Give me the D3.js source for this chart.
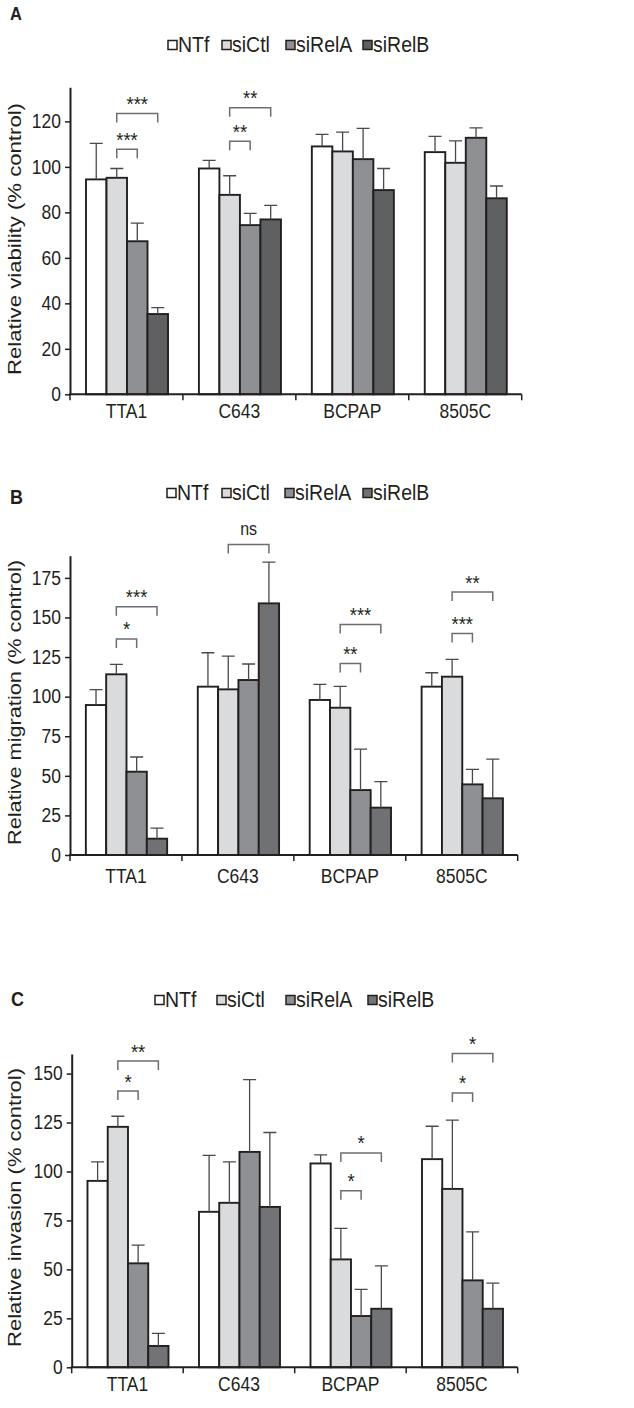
<!DOCTYPE html>
<html><head><meta charset="utf-8">
<script src="https://cdn.jsdelivr.net/npm/d3@7"></script>
<style>body{margin:0;background:#fff}svg{display:block}text{font-family:"Liberation Sans",Arial,sans-serif;fill:#231f20}</style>
</head><body><svg id="c" width="634" height="1408"></svg>
<script>
const categories = ["TTA1", "C643", "BCPAP", "8505C"];
const series = ["NTf", "siCtl", "siRelA", "siRelB"];

// Panel A: relative viability (mean per category, one array per series) and upper error
const viabilityNTf = [94.5, 99.3, 109.0, 106.5];
const viabilitySiCtl = [95.2, 87.7, 106.8, 101.8];
const viabilitySiRelA = [67.3, 74.4, 103.4, 112.8];
const viabilitySiRelB = [35.3, 76.9, 89.8, 86.2];
const viabilityErrNTf = [15.8, 3.6, 5.3, 6.9];
const viabilityErrSiCtl = [4.1, 8.4, 8.5, 9.6];
const viabilityErrSiRelA = [8.0, 5.2, 13.5, 4.4];
const viabilityErrSiRelB = [2.8, 6.2, 9.5, 5.4];
const viabilityTicks = [0, 20, 40, 60, 80, 100, 120];
const viabilitySig = [
  {cat: "TTA1", from: "siCtl", to: "siRelA", level: 107.8, label: "***"},
  {cat: "TTA1", from: "siCtl", to: "siRelB", level: 123.5, label: "***"},
  {cat: "C643", from: "siCtl", to: "siRelA", level: 111.3, label: "**"},
  {cat: "C643", from: "siCtl", to: "siRelB", level: 126.0, label: "**"}
];

// Panel B: relative migration
const migrationNTf = [94.7, 106.3, 97.9, 106.3];
const migrationSiCtl = [114.1, 104.6, 93.0, 112.6];
const migrationSiRelA = [52.6, 110.5, 41.0, 44.6];
const migrationSiRelB = [10.3, 158.9, 29.9, 35.8];
const migrationErrNTf = [9.7, 21.4, 9.9, 8.8];
const migrationErrSiCtl = [6.3, 21.0, 13.5, 10.9];
const migrationErrSiRelA = [9.3, 10.1, 25.9, 9.5];
const migrationErrSiRelB = [6.7, 26.1, 16.4, 24.8];
const migrationTicks = [0, 25, 50, 75, 100, 125, 150, 175];
const migrationSig = [
  {cat: "TTA1", from: "siCtl", to: "siRelA", level: 136.4, label: "*"},
  {cat: "TTA1", from: "siCtl", to: "siRelB", level: 156.8, label: "***"},
  {cat: "C643", from: "siCtl", to: "siRelB", level: 196.0, label: "ns"},
  {cat: "BCPAP", from: "siCtl", to: "siRelA", level: 121.0, label: "**"},
  {cat: "BCPAP", from: "siCtl", to: "siRelB", level: 145.5, label: "***"},
  {cat: "8505C", from: "siCtl", to: "siRelA", level: 139.9, label: "***"},
  {cat: "8505C", from: "siCtl", to: "siRelB", level: 166.0, label: "**"}
];

// Panel C: relative invasion
const invasionNTf = [95.2, 79.4, 104.1, 106.3];
const invasionSiCtl = [122.8, 84.0, 55.1, 91.1];
const invasionSiRelA = [53.1, 110.0, 26.2, 44.4];
const invasionSiRelB = [10.9, 81.9, 29.9, 29.9];
const invasionErrNTf = [9.7, 28.8, 4.4, 16.8];
const invasionErrSiCtl = [5.4, 20.9, 15.8, 35.1];
const invasionErrSiRelA = [9.3, 36.9, 13.6, 24.8];
const invasionErrSiRelB = [6.4, 38.0, 21.9, 13.1];
const invasionTicks = [0, 25, 50, 75, 100, 125, 150];
const invasionSig = [
  {cat: "TTA1", from: "siCtl", to: "siRelA", level: 141.1, label: "*"},
  {cat: "TTA1", from: "siCtl", to: "siRelB", level: 156.4, label: "**"},
  {cat: "BCPAP", from: "siCtl", to: "siRelA", level: 90.1, label: "*"},
  {cat: "BCPAP", from: "siCtl", to: "siRelB", level: 109.5, label: "*"},
  {cat: "8505C", from: "siCtl", to: "siRelA", level: 140.1, label: "*"},
  {cat: "8505C", from: "siCtl", to: "siRelB", level: 160.2, label: "*"}
];

const svg = d3.select("#c");
const SY = 1.12; // vertical stretch of the original figure's text

function drawPanel(p) {
  const g = svg.append("g");
  const colors = {NTf: "#ffffff", siCtl: "#dadbdd", siRelA: "#8f9093", siRelB: p.relBColor};
  const x = d3.scaleBand().domain(categories).range(p.xRange).padding(0);
  const bw = x.bandwidth();
  const x1 = d3.scaleBand().domain(series).range([bw * 0.1416, bw * 0.868]).padding(0);
  const y = d3.scaleLinear().domain([0, p.yMax]).range(p.yRange);

  const rows = [];
  series.forEach((s, si) => categories.forEach((c, ci) => {
    rows.push({s, c, v: p.means[si][ci], e: p.errs[si][ci]});
  }));

  // bars
  g.selectAll("rect.bar").data(rows).join("rect")
    .attr("class", "bar")
    .attr("x", d => x(d.c) + x1(d.s))
    .attr("y", d => y(d.v))
    .attr("width", x1.bandwidth())
    .attr("height", d => y(0) - y(d.v))
    .attr("fill", d => colors[d.s])
    .attr("stroke", "#231f20").attr("stroke-width", 1.9);

  // error bars (upper only)
  const cx = d => x(d.c) + x1(d.s) + x1.bandwidth() / 2;
  g.selectAll("path.err").data(rows).join("path")
    .attr("class", "err")
    .attr("d", d => `M${cx(d)},${y(d.v)}V${y(d.v + d.e)}M${cx(d) - 6.5},${y(d.v + d.e)}H${cx(d) + 6.5}`)
    .attr("fill", "none").attr("stroke", "#4a4a4c").attr("stroke-width", 1.3);

  // y axis
  const ya = g.append("g").attr("transform", `translate(${p.xRange[0]},0)`)
    .call(d3.axisLeft(y).tickValues(p.ticks).tickSize(5).tickSizeOuter(0).tickPadding(4));
  ya.select(".domain").attr("stroke", "#231f20").attr("stroke-width", 2);
  ya.selectAll(".tick line").attr("stroke", "#231f20").attr("stroke-width", 1.5);
  ya.selectAll(".tick text").attr("font-size", 17.5).attr("font-family", null)
    .attr("fill", "#231f20").attr("transform", `scale(1,${SY})`);

  // x axis
  g.append("line").attr("x1", p.xRange[0] - 1).attr("x2", p.xRange[1])
    .attr("y1", y(0)).attr("y2", y(0)).attr("stroke", "#231f20").attr("stroke-width", 2);
  const bounds = categories.map(c => x(c)).concat([p.xRange[1]]);
  g.selectAll("line.xt").data(bounds).join("line")
    .attr("x1", d => d).attr("x2", d => d).attr("y1", y(0)).attr("y2", y(0) + 6)
    .attr("stroke", "#231f20").attr("stroke-width", 1.5);
  g.selectAll("text.cat").data(categories).join("text")
    .attr("text-anchor", "middle").attr("font-size", 17.5)
    .attr("transform", d => `translate(${x(d) + bw / 2},${p.catY}) scale(1,${SY})`)
    .text(d => d);

  // significance brackets
  p.sig.forEach(b => {
    const xa = x(b.cat) + x1(b.from) + x1.bandwidth() / 2;
    const xb = x(b.cat) + x1(b.to) + x1.bandwidth() / 2;
    const yy = y(b.level);
    g.append("path").attr("d", `M${xa},${yy + 9}V${yy}H${xb}V${yy + 9}`)
      .attr("fill", "none").attr("stroke", "#6d6e70").attr("stroke-width", 1.5);
    const isNs = b.label === "ns";
    g.append("text").attr("text-anchor", "middle").attr("font-size", isNs ? 16 : 18.5)
      .attr("fill", "#333")
      .attr("transform", `translate(${(xa + xb) / 2},${yy - (isNs ? 9.5 : 2.5)}) scale(1,${SY})`)
      .text(b.label);
  });

  // legend
  series.forEach((s, i) => {
    g.append("rect").attr("x", p.legX[i]).attr("y", p.legY - 4.5).attr("width", 9).attr("height", 9)
      .attr("fill", colors[s]).attr("stroke", "#231f20").attr("stroke-width", 1.5);
    g.append("text").attr("font-size", 19.5)
      .attr("transform", `translate(${p.legX[i] + 10},${p.legY + 7}) scale(1,${SY})`)
      .text(s);
  });

  // panel letter
  g.append("text").attr("font-weight", "bold").attr("font-size", p.letterSize)
    .attr("transform", `translate(${p.letterPos[0]},${p.letterPos[1]}) scale(1,${SY})`)
    .text(p.letter);

  // y label
  g.append("text").attr("text-anchor", "middle").attr("font-size", 19)
    .attr("transform", `translate(20.5,${p.ylabelY}) rotate(-90)`)
    .attr("textLength", p.ylabelLen).attr("lengthAdjust", "spacingAndGlyphs")
    .text(p.ylabel);
}

drawPanel({
  means: [viabilityNTf, viabilitySiCtl, viabilitySiRelA, viabilitySiRelB],
  errs: [viabilityErrNTf, viabilityErrSiCtl, viabilityErrSiRelA, viabilityErrSiRelB],
  ticks: viabilityTicks, sig: viabilitySig, yMax: 135,
  yRange: [394.3, 87.3], xRange: [70, 521.7], catY: 418,
  legY: 45, legX: [168, 222, 286, 363], relBColor: "#5f6062",
  letter: "A", letterSize: 16.5, letterPos: [10, 20],
  ylabel: "Relative viability (% control)", ylabelY: 239, ylabelLen: 272
});
drawPanel({
  means: [migrationNTf, migrationSiCtl, migrationSiRelA, migrationSiRelB],
  errs: [migrationErrNTf, migrationErrSiCtl, migrationErrSiRelA, migrationErrSiRelB],
  ticks: migrationTicks, sig: migrationSig, yMax: 189,
  yRange: [855, 555.7], xRange: [70, 517.7], catY: 883,
  legY: 493, legX: [167, 222, 285, 363], relBColor: "#707174",
  letter: "B", letterSize: 18, letterPos: [10, 504],
  ylabel: "Relative migration (% control)", ylabelY: 702.5, ylabelLen: 285
});
drawPanel({
  means: [invasionNTf, invasionSiCtl, invasionSiRelA, invasionSiRelB],
  errs: [invasionErrNTf, invasionErrSiCtl, invasionErrSiRelA, invasionErrSiRelB],
  ticks: invasionTicks, sig: invasionSig, yMax: 160,
  yRange: [1367.3, 1054], xRange: [71.7, 517.7], catY: 1391,
  legY: 1000, legX: [155, 217, 286, 368], relBColor: "#727376",
  letter: "C", letterSize: 18, letterPos: [11, 1006],
  ylabel: "Relative invasion (% control)", ylabelY: 1207.5, ylabelLen: 279
});
</script>
</body></html>
